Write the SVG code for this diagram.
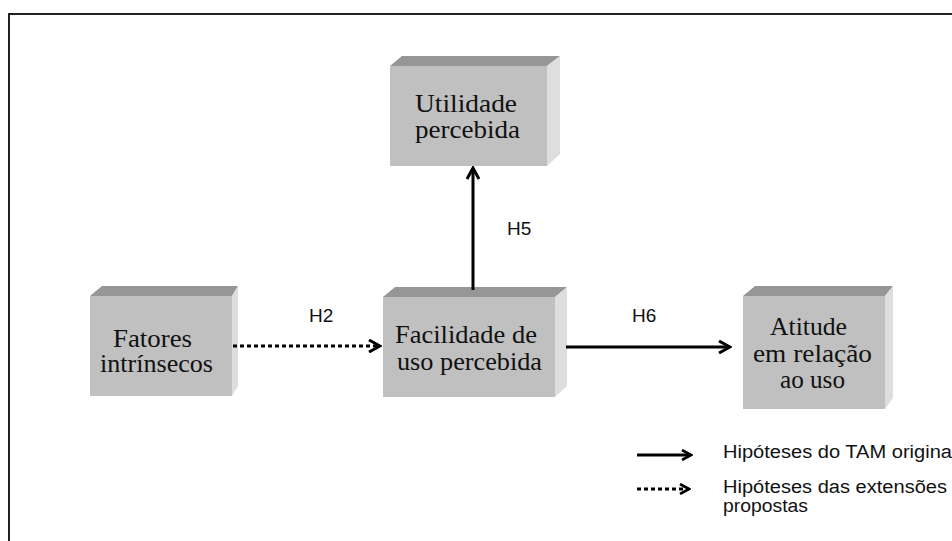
<svg xmlns="http://www.w3.org/2000/svg" width="952" height="541" viewBox="0 0 952 541">
  <style>
    .front { fill: #c0c0c0; }
    .top { fill: #969696; }
    .side { fill: #dedede; }
    .lbl { font-family: "Liberation Serif", "Times New Roman", serif; font-size: 25px; fill: #111; }
    .hyp { font-family: "Liberation Sans", Arial, sans-serif; font-size: 19px; fill: #111; }
    .leg { font-family: "Liberation Sans", Arial, sans-serif; font-size: 18px; fill: #111; }
    .solid { stroke: #000; stroke-width: 3; fill: none; }
    .dotted { stroke: #000; stroke-width: 3; fill: none; stroke-dasharray: 4 3; }
  </style>
  <defs>
    <marker id="vhead" viewBox="0 0 12 12" refX="10" refY="6" markerWidth="12" markerHeight="12" markerUnits="userSpaceOnUse" orient="auto">
      <path d="M1,1 L10,6 L1,11" fill="none" stroke="#000" stroke-width="2.6"/>
    </marker>
    <marker id="vhead-lg" viewBox="0 0 14 14" refX="12" refY="7" markerWidth="14" markerHeight="14" markerUnits="userSpaceOnUse" orient="auto">
      <path d="M1,1 L12,7 L1,13" fill="none" stroke="#000" stroke-width="3"/>
    </marker>
  </defs>

  <rect x="0" y="0" width="952" height="541" fill="#fff"/>
  <!-- outer frame, open to the right and bottom -->
  <path d="M9,560 L9,14 L970,14" fill="none" stroke="#222" stroke-width="2"/>

  <g id="utilidade">
    <polygon class="top" points="390,66 402,56 560,56 547,66"/>
    <polygon class="side" points="547,66 560,56 560,154 547,166"/>
    <rect class="front" x="390" y="66" width="157" height="100"/>
    <text class="lbl" x="415" y="112" textLength="102" lengthAdjust="spacingAndGlyphs">Utilidade</text>
    <text class="lbl" x="415" y="138" textLength="105" lengthAdjust="spacingAndGlyphs">percebida</text>
  </g>

  <g id="fatores">
    <polygon class="top" points="90,296 102,286 238,286 232,296"/>
    <polygon class="side" points="232,296 238,286 238,386 232,396"/>
    <rect class="front" x="90" y="296" width="142" height="100"/>
    <text class="lbl" x="113" y="347" textLength="79" lengthAdjust="spacingAndGlyphs">Fatores</text>
    <text class="lbl" x="100" y="372" textLength="113" lengthAdjust="spacingAndGlyphs">intrínsecos</text>
  </g>

  <g id="facilidade">
    <polygon class="top" points="383,297 395,287 567,287 555,297"/>
    <polygon class="side" points="555,297 567,287 567,386 555,397"/>
    <rect class="front" x="383" y="297" width="172" height="100"/>
    <text class="lbl" x="395" y="343" textLength="142" lengthAdjust="spacingAndGlyphs">Facilidade de</text>
    <text class="lbl" x="397" y="370" textLength="145" lengthAdjust="spacingAndGlyphs">uso percebida</text>
  </g>

  <g id="atitude">
    <polygon class="top" points="743,296 755,286 893,286 885,296"/>
    <polygon class="side" points="885,296 893,286 893,398 885,409"/>
    <rect class="front" x="743" y="296" width="142" height="113"/>
    <text class="lbl" x="770" y="335" textLength="77" lengthAdjust="spacingAndGlyphs">Atitude</text>
    <text class="lbl" x="753" y="362" textLength="119" lengthAdjust="spacingAndGlyphs">em relação</text>
    <text class="lbl" x="780" y="388" textLength="65" lengthAdjust="spacingAndGlyphs">ao uso</text>
  </g>

  <g id="connectors">
    <line class="solid" x1="473" y1="290" x2="473" y2="168" marker-end="url(#vhead-lg)"/>
    <line class="dotted" x1="233" y1="346" x2="380" y2="346" marker-end="url(#vhead-lg)"/>
    <line class="solid" x1="566" y1="347" x2="730" y2="347" marker-end="url(#vhead-lg)"/>
    <text class="hyp" x="507" y="235">H5</text>
    <text class="hyp" x="309" y="322">H2</text>
    <text class="hyp" x="632" y="322">H6</text>
  </g>

  <g id="legend">
    <line class="solid" x1="637" y1="455" x2="691" y2="455" marker-end="url(#vhead)"/>
    <line class="dotted" x1="637" y1="489" x2="689" y2="489" marker-end="url(#vhead)"/>
    <text class="leg" x="723" y="458" textLength="229" lengthAdjust="spacingAndGlyphs">Hipóteses do TAM origina</text>
    <text class="leg" x="723" y="493" textLength="224" lengthAdjust="spacingAndGlyphs">Hipóteses das extensões</text>
    <text class="leg" x="723" y="512" textLength="85" lengthAdjust="spacingAndGlyphs">propostas</text>
  </g>
</svg>
